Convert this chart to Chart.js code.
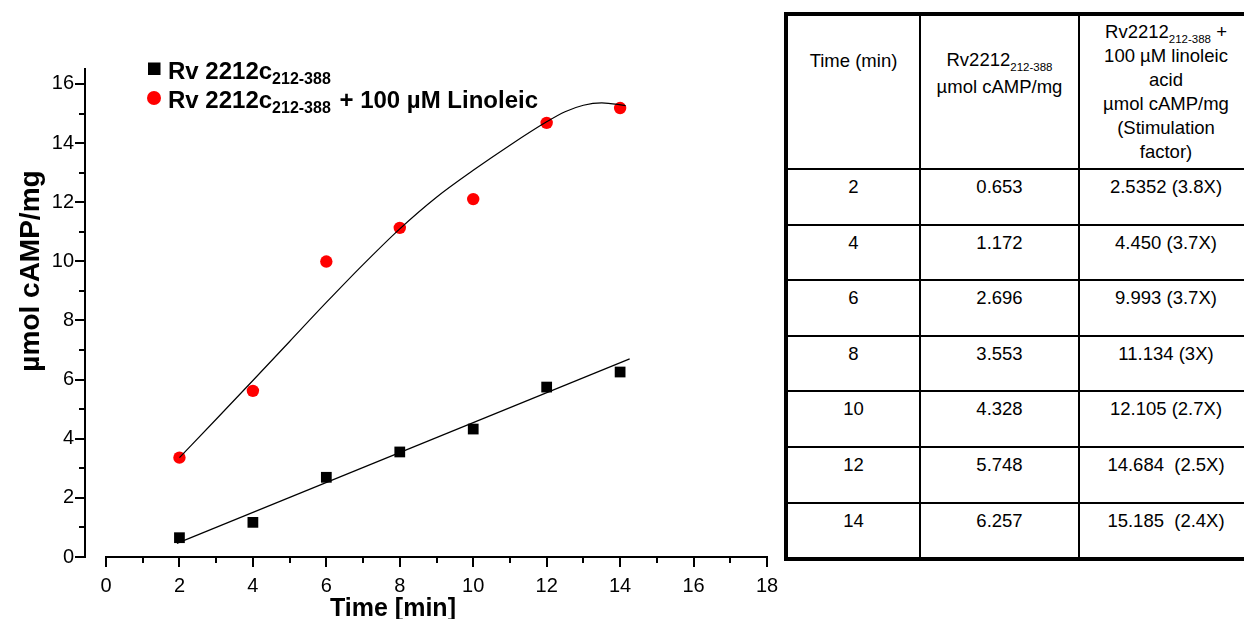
<!DOCTYPE html>
<html>
<head>
<meta charset="utf-8">
<title>Rv2212c adenylyl cyclase activity</title>
<script src="https://cdn.jsdelivr.net/npm/chart.js@4.4.1/dist/chart.umd.min.js"></script>
<style>
  html, body { margin: 0; padding: 0; background: #fff; width: 1244px; height: 619px; overflow: hidden; }
  #plot { position: absolute; left: 0; top: 0; }
  #rates {
    position: absolute; left: 784px; top: 12px;
    border-collapse: separate; border-spacing: 0;
    border: 4px solid #000; table-layout: fixed;
    font: 18.5px "Liberation Sans", Arial, sans-serif; color: #000;
  }
  #rates td { padding: 0; text-align: center; vertical-align: top;
    border-right: 2px solid #000; border-bottom: 2px solid #000; white-space: pre; }
  #rates td.c3 { border-right: none; }
  #rates tr.last td { border-bottom: none; }
  #rates .cell { box-sizing: border-box; overflow: visible; }
  #rates .sub { font-size: 11.5px; position: relative; top: 5px; line-height: 1; }
</style>
</head>
<body>
<canvas id="plot" width="780" height="619"></canvas>
<table id="rates"></table>
<script>
// Sampling times (min) and measured activities (µmol cAMP/mg)
const timeMin = [2, 4, 6, 8, 10, 12, 14];
const basalCAMP = [0.653, 1.172, 2.696, 3.553, 4.328, 5.748, 6.257];
const linoleicCAMP = [3.36, 5.62, 9.993, 11.134, 12.105, 14.684, 15.185];

// Fitted trend lines
const basalFitTime = [1.93, 14.26];
const basalFitCAMP = [0.46, 6.70];
const linoleicFitTime = [2, 3, 4, 5, 6, 7, 8, 9, 10, 11, 12, 12.5, 13, 13.5, 14.15];
const linoleicFitCAMP = [3.36, 4.66, 5.97, 7.29, 8.61, 9.89, 11.10, 12.17, 13.08, 13.93, 14.72, 15.06, 15.28, 15.36, 15.27];

// Axis ticks
const xTickValues = [0, 2, 4, 6, 8, 10, 12, 14, 16, 18];
const yTickValues = [0, 2, 4, 6, 8, 10, 12, 14, 16];

// Legend text
const legendMain = ['Rv 2212c', 'Rv 2212c'];
const legendSub = ['212-388', '212-388'];
const legendTail = ['', '+ 100 µM Linoleic'];

// Table contents
const tableTime = ['2', '4', '6', '8', '10', '12', '14'];
const tableBasal = ['0.653', '1.172', '2.696', '3.553', '4.328', '5.748', '6.257'];
const tableLinoleic = ['2.5352 (3.8X)', '4.450 (3.7X)', '9.993 (3.7X)', '11.134 (3X)', '12.105 (2.7X)', '14.684  (2.5X)', '15.185  (2.4X)'];

const FONT = '"Liberation Sans", Arial, Helvetica, sans-serif';
const RED = '#ff0000';
const BLACK = '#000000';

const toPoints = (xs, ys) => xs.map((v, i) => ({ x: v, y: ys[i] }));
const minorBetween = vals => vals.slice(1).map((v, i) => (v + vals[i]) / 2);

// Axis lines, tick marks, axis titles and legend
const axisPainter = {
  id: 'axisPainter',
  afterDraw(chart) {
    const { ctx, scales: { x, y } } = chart;
    const x0 = x.getPixelForValue(0);
    const y0 = Math.round(y.getPixelForValue(0));
    const axisX = Math.round(x0) - 21;
    ctx.save();
    ctx.strokeStyle = BLACK;
    ctx.lineWidth = 2;
    ctx.beginPath();
    // y axis
    ctx.moveTo(axisX, Math.round(y.top));
    ctx.lineTo(axisX, y0 + 1);
    yTickValues.forEach(v => { const p = Math.round(y.getPixelForValue(v)); ctx.moveTo(axisX - 10, p); ctx.lineTo(axisX, p); });
    minorBetween(yTickValues).forEach(v => { const p = Math.round(y.getPixelForValue(v)); ctx.moveTo(axisX - 6, p); ctx.lineTo(axisX, p); });
    // x axis
    ctx.moveTo(Math.round(x0) - 1, y0);
    ctx.lineTo(Math.round(x.getPixelForValue(18)) + 1, y0);
    xTickValues.forEach(v => { const p = Math.round(x.getPixelForValue(v)); ctx.moveTo(p, y0); ctx.lineTo(p, y0 + 10); });
    minorBetween(xTickValues).forEach(v => { const p = Math.round(x.getPixelForValue(v)); ctx.moveTo(p, y0); ctx.lineTo(p, y0 + 6); });
    ctx.stroke();

    // axis titles
    ctx.fillStyle = BLACK;
    ctx.font = 'bold 25px ' + FONT;
    ctx.textAlign = 'center';
    ctx.textBaseline = 'alphabetic';
    ctx.fillText('Time [min]', 393, 616);
    ctx.save();
    ctx.translate(31, 271);
    ctx.rotate(-Math.PI / 2);
    ctx.textBaseline = 'middle';
    ctx.font = 'bold 28px ' + FONT;
    ctx.fillText('µmol cAMP/mg', 0, 0);
    ctx.restore();

    // legend
    const markerY = [68.5, 98];
    const baseY = [79, 108];
    ctx.textAlign = 'left';
    ctx.textBaseline = 'alphabetic';
    legendMain.forEach((label, i) => {
      const ds = chart.data.datasets[i + 2];
      ctx.fillStyle = ds.backgroundColor;
      if (ds.pointStyle === 'rect') {
        ctx.fillRect(148, markerY[i] - 6, 12.5, 12.5);
      } else {
        ctx.beginPath();
        ctx.arc(154, markerY[i], 7, 0, Math.PI * 2);
        ctx.fill();
      }
      ctx.fillStyle = BLACK;
      let tx = 168;
      ctx.font = 'bold 24px ' + FONT;
      ctx.fillText(label, tx, baseY[i]);
      tx += ctx.measureText(label).width;
      ctx.font = 'bold 16px ' + FONT;
      ctx.fillText(legendSub[i], tx, baseY[i] + 5);
      tx += ctx.measureText(legendSub[i]).width;
      if (legendTail[i]) {
        ctx.font = 'bold 24px ' + FONT;
        tx += ctx.measureText(' ').width + 2;
        ctx.fillText(legendTail[i], tx, baseY[i]);
      }
    });
    ctx.restore();
  }
};

new Chart(document.getElementById('plot'), {
  type: 'scatter',
  data: {
    datasets: [
      {
        label: 'Rv 2212c212-388 fit',
        data: toPoints(basalFitTime, basalFitCAMP),
        showLine: true, pointRadius: 0, borderColor: BLACK, borderWidth: 1.2,
        tension: 0, order: 0
      },
      {
        label: 'Rv 2212c212-388 + 100 µM Linoleic fit',
        data: toPoints(linoleicFitTime, linoleicFitCAMP),
        showLine: true, pointRadius: 0, borderColor: BLACK, borderWidth: 1.2,
        cubicInterpolationMode: 'monotone', order: 0
      },
      {
        label: 'Rv 2212c212-388',
        data: toPoints(timeMin, basalCAMP),
        pointStyle: 'rect', pointRadius: 7.6, pointHoverRadius: 7.6,
        backgroundColor: BLACK, borderColor: BLACK, borderWidth: 0, order: 1
      },
      {
        label: 'Rv 2212c212-388 + 100 µM Linoleic',
        data: toPoints(timeMin, linoleicCAMP),
        pointStyle: 'circle', pointRadius: 6.2, pointHoverRadius: 6.2,
        backgroundColor: RED, borderColor: RED, borderWidth: 0, order: 1
      }
    ]
  },
  options: {
    responsive: false,
    animation: false,
    devicePixelRatio: 1,
    layout: { padding: { left: 0, top: 68, right: 13, bottom: 0 } },
    plugins: { legend: { display: false }, tooltip: { enabled: false } },
    scales: {
      x: {
        type: 'linear', position: 'bottom', min: 0, max: 18,
        afterBuildTicks: s => { s.ticks = xTickValues.map(v => ({ value: v })); },
        afterFit: s => { s.height = 62; s.paddingLeft = 0; s.paddingRight = 0; },
        grid: { display: false, drawTicks: false },
        border: { display: false },
        ticks: { color: BLACK, padding: 17, font: { family: FONT, size: 20 }, maxRotation: 0, autoSkip: false }
      },
      y: {
        type: 'linear', position: 'left', min: 0, max: 16.54,
        afterBuildTicks: s => { s.ticks = yTickValues.map(v => ({ value: v })); },
        afterFit: s => { s.width = 106; s.paddingTop = 0; s.paddingBottom = 0; },
        grid: { display: false, drawTicks: false },
        border: { display: false },
        ticks: { color: BLACK, padding: 32, font: { family: FONT, size: 20 } }
      }
    }
  },
  plugins: [axisPainter]
});

// Data table
const sub = t => '<span class="sub">' + t + '</span>';
const headerCells = [
  { html: 'Time (min)', lh: 20, pad: 34.8 },
  { html: 'Rv2212' + sub('212-388') + '\nµmol cAMP/mg', lh: 27, pad: 30 },
  { html: 'Rv2212' + sub('212-388') + ' +\n100 µM linoleic\nacid\nµmol cAMP/mg\n(Stimulation\nfactor)', lh: 24, pad: 4 }
];
const colWidths = [131, 157, 172];
let html = '<colgroup><col style="width:133px"><col style="width:159px"><col style="width:172px"></colgroup><tr>';
headerCells.forEach((c, i) => {
  html += '<td class="c' + (i + 1) + '"><div class="cell" style="width:' + colWidths[i] + 'px;height:152px;padding-top:' + c.pad + 'px;line-height:' + c.lh + 'px">' + c.html + '</div></td>';
});
html += '</tr>';
tableTime.forEach((t, r) => {
  const last = r === tableTime.length - 1;
  html += '<tr' + (last ? ' class="last"' : '') + '>';
  [t, tableBasal[r], tableLinoleic[r]].forEach((v, i) => {
    html += '<td class="c' + (i + 1) + '"><div class="cell" style="width:' + colWidths[i] + 'px;height:53.6px;padding-top:7px;line-height:20px">' + v + '</div></td>';
  });
  html += '</tr>';
});
document.getElementById('rates').innerHTML = html;
</script>
</body>
</html>
